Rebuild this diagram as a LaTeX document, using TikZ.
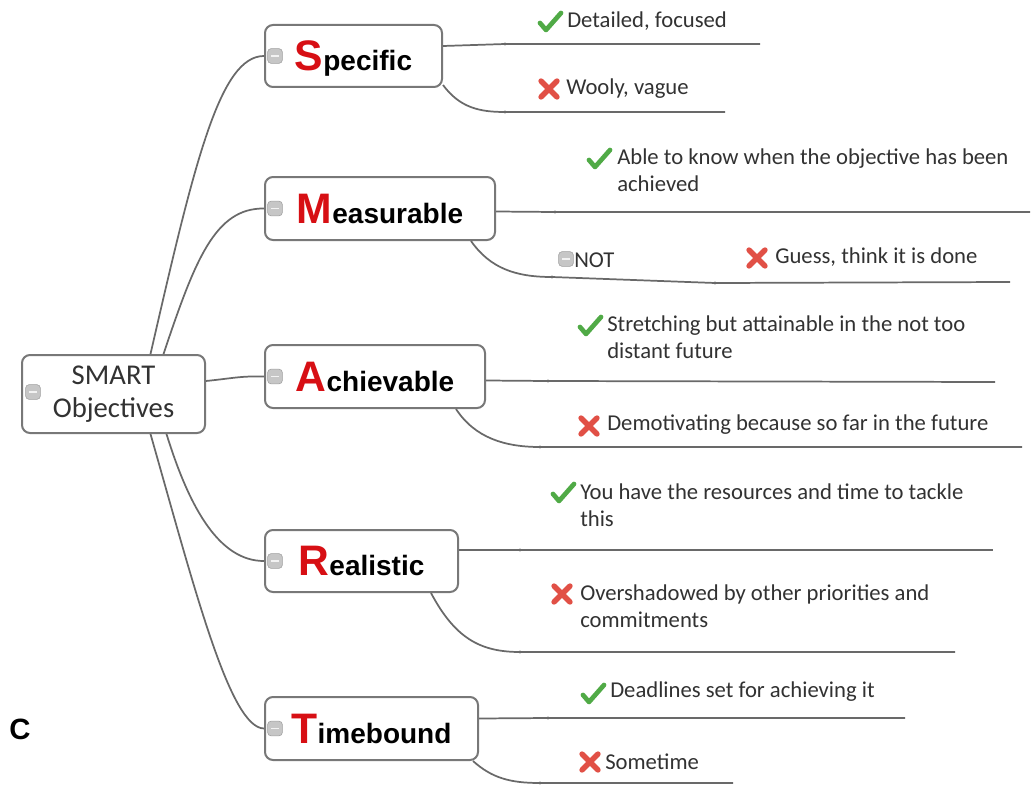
\documentclass[tikz,border=0pt]{standalone}
\usepackage{fontspec}
\setmainfont{Carlito}
\newfontfamily\hdrfont{Liberation Sans}
\usetikzlibrary{calc}
\definecolor{boxgray}{RGB}{120,120,120}
\definecolor{linegray}{RGB}{105,105,105}
\definecolor{txtgray}{RGB}{50,50,50}
\definecolor{hred}{RGB}{215,15,20}
\definecolor{chkgreen}{RGB}{80,170,70}
\definecolor{crsred}{RGB}{225,80,70}
\newcommand\hdrtext[2]{{\hdrfont\bfseries\fontsize{32}{32}\selectfont\color{hred}#1}{\hdrfont\bfseries\fontsize{21}{21}\selectfont #2}}
\tikzset{
  box/.style={draw=boxgray, line width=1.5pt, rounded corners=6pt, fill=white, inner sep=0pt},
  hbox/.style={box, text depth=0pt},
  conn/.style={draw=linegray, line width=1.3pt},
  leaf/.style={font=\fontsize{17}{20.25}\selectfont, text=txtgray, anchor=west, align=left, inner sep=0pt},
  minicon/.style={draw=gray!75, fill=gray!45, rounded corners=2.5pt, minimum size=11pt, inner sep=0pt,
    path picture={\draw[gray!10, line width=1.2pt] ([xshift=-3pt]path picture bounding box.center) -- ([xshift=3pt]path picture bounding box.center);}},
  chk/.pic={\draw[chkgreen, line width=3.5pt, line cap=round, line join=round] (-10,1) -- (-4,8) -- (11,-9);},
  crs/.pic={\draw[crsred, line width=4pt, line cap=round] (-8,-8) -- (8,8) (-8,8) -- (8,-8);},
  jdot/.style={fill=linegray, circle, inner sep=0pt, minimum size=2.5pt}
}
\begin{document}
\begin{tikzpicture}[x=0.75pt,y=-0.75pt]
\useasboundingbox (0,0) rectangle (1034,788);
\fill[white] (0,0) rectangle (1034,788);

% central and branch boxes
\node[box, minimum width=137.25pt, minimum height=58.5pt, font=\fontsize{21.5}{25}\selectfont, align=center, text=txtgray] (smart) at (113.5,394) {SMART\\Objectives};
\node[hbox, minimum width=132.75pt, minimum height=46.5pt] (spec) at (353.5,56) {\hdrtext{S}{pecific}};
\node[hbox, minimum width=172.5pt, minimum height=47.25pt] (meas) at (380,208.5) {\hdrtext{M}{easurable}};
\node[hbox, minimum width=165pt, minimum height=47.25pt] (ach) at (375,376.5) {\hdrtext{A}{chievable}};
\node[hbox, minimum width=144.75pt, minimum height=46.5pt] (real) at (361.5,561) {\hdrtext{R}{ealistic}};
\node[hbox, minimum width=159.75pt, minimum height=47.25pt] (time) at (371.5,728.5) {\hdrtext{T}{imebound}};

% connectors from centre
\draw[conn] ($(smart.north)+(37,0)$) .. controls (195,160) and (220,56) .. (spec.west);
\draw[conn] ($(smart.north)+(50,0)$) .. controls (195,260) and (215,208) .. (meas.west);
\draw[conn] ($(smart.east)+(0,-13)$) .. controls (235,378) and (240,376) .. (ach.west);
\draw[conn] ($(smart.south)+(53,0)$) .. controls (190,510) and (220,561) .. (real.west);
\draw[conn] ($(smart.south)+(37,0)$) .. controls (195,590) and (230,728) .. (time.west);

% minus icons
\node[minicon] (smartm) at ($(smart.west)+(12,-2)$) {};
\node[minicon] (specm) at ($(spec.west)+(11,0)$) {};
\node[minicon] (measm) at ($(meas.west)+(11,0)$) {};
\node[minicon] (achm) at ($(ach.west)+(11,0)$) {};
\node[minicon] (realm) at ($(real.west)+(11,0)$) {};
\node[minicon] (timem) at ($(time.west)+(11,0)$) {};

% junction coordinates
\coordinate (sa1) at (505,44);  \coordinate (sa2) at (760,44);
\coordinate (sb1) at (505,112); \coordinate (sb2) at (725,112);
\coordinate (ma1) at (555,212); \coordinate (ma2) at (1030,212);
\coordinate (mb1) at (552,277); \coordinate (mb2) at (715,283); \coordinate (mb3) at (1010,282);
\coordinate (aa1) at (548,381); \coordinate (aa2) at (995,382);
\coordinate (ab1) at (540,447); \coordinate (ab2) at (1022,447);
\coordinate (ra1) at (520,550); \coordinate (ra2) at (993,550);
\coordinate (rb1) at (520,652); \coordinate (rb2) at (955,652);
\coordinate (ta1) at (548,718); \coordinate (ta2) at (905,718);
\coordinate (tb1) at (540,783); \coordinate (tb2) at (733,783);

% branch lines
\draw[conn] ($(spec.east)+(0,-10)$) -- (sa1) -- (sa2);
\draw[conn] ($(spec.south east)+(0,-3)$) .. controls (460,108) and (480,112) .. (sb1) -- (sb2);
\draw[conn] ($(meas.east)+(0,3)$) -- (ma1) -- (ma2);
\draw[conn] ($(meas.south east)+(-25,0)$) .. controls (490,268) and (515,277) .. (mb1) -- (mb2) -- (mb3);
\draw[conn] ($(ach.east)+(0,4)$) -- (aa1) -- (aa2);
\draw[conn] ($(ach.south east)+(-30,0)$) .. controls (475,438) and (505,447) .. (ab1) -- (ab2);
\draw[conn] ($(real.east)+(0,-11)$) -- (ra1) -- (ra2);
\draw[conn] ($(real.south east)+(-28,0)$) .. controls (455,638) and (480,652) .. (rb1) -- (rb2);
\draw[conn] ($(time.east)+(0,-10)$) -- (ta1) -- (ta2);
\draw[conn] ($(time.south east)+(-6,0)$) .. controls (492,778) and (510,783) .. (tb1) -- (tb2);
\foreach \c in {sa1,sb1,ma1,mb1,mb2,aa1,ab1,ra1,rb1,ta1,tb1} \node[jdot] at (\c) {};

% leaves
\pic at (550,22) {chk};
\node[leaf] (l1) at (567,21) {Detailed, focused};
\pic at (549,89) {crs};
\node[leaf] (l2) at (566,89) {Wooly, vague};
\pic at (599,159) {chk};
\node[leaf] (l3) at (617,170.5) {Able to know when the objective has been\\achieved};
\node[minicon] (notm) at (566,259) {};
\node[leaf] (l4) at (574,260) {NOT};
\pic at (757,258) {crs};
\node[leaf] (l5) at (775,257) {Guess, think it is done};
\pic at (590,326) {chk};
\node[leaf] (l6) at (607,337.5) {Stretching but attainable in the not too\\distant future};
\pic at (589,426) {crs};
\node[leaf] (l7) at (607,425) {Demotivating because so far in the future};
\pic at (563,493) {chk};
\node[leaf] (l8) at (580,505.5) {You have the resources and time to tackle\\this};
\pic at (562,594) {crs};
\node[leaf] (l9) at (580,606.5) {Overshadowed by other priorities and\\commitments};
\pic at (593,694) {chk};
\node[leaf] (l10) at (610,692) {Deadlines set for achieving it};
\pic at (590,762) {crs};
\node[leaf] (l11) at (605,762) {Sometime};

\node[font=\hdrfont\bfseries\fontsize{22}{22}\selectfont, inner sep=0pt] (c) at (20,729) {C};
\end{tikzpicture}
\end{document}
